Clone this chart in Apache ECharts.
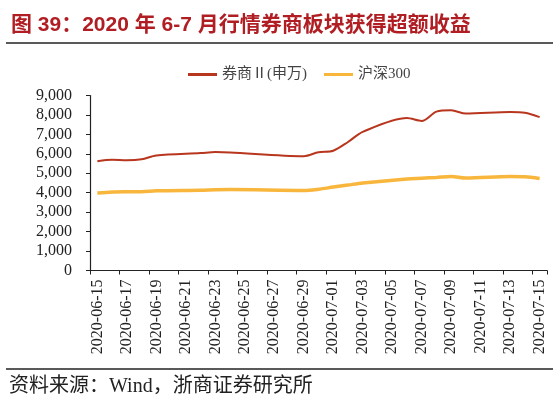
<!DOCTYPE html>
<html>
<head>
<meta charset="utf-8">
<script src="https://cdn.jsdelivr.net/npm/echarts@6/dist/echarts.min.js"></script>
<style>
html,body{margin:0;padding:0;background:#fff;}
#c{width:553px;height:401px;}
</style>
</head>
<body>
<div id="c"></div>
<script>
var dates = ['2020-06-15','2020-06-16','2020-06-17','2020-06-18','2020-06-19','2020-06-20','2020-06-21','2020-06-22','2020-06-23','2020-06-24','2020-06-25','2020-06-26','2020-06-27','2020-06-28','2020-06-29','2020-06-30','2020-07-01','2020-07-02','2020-07-03','2020-07-04','2020-07-05','2020-07-06','2020-07-07','2020-07-08','2020-07-09','2020-07-10','2020-07-11','2020-07-12','2020-07-13','2020-07-14','2020-07-15'];
var brokerValues = [5620,5690,5670,5720,5920,null,null,6040,6090,6070,null,null,null,null,5880,6080,6160,6610,7130,null,null,7840,7690,8170,8240,8070,null,null,8150,8110,7890];
var csi300Values = [3980,4035,4048,4050,4100,null,null,4125,4150,4160,null,null,null,null,4115,4180,4290,4395,4500,null,null,4710,4745,4785,4840,4755,null,null,4835,4820,4730];
var seriesNames = ['券商Ⅱ(申万)','沪深300'];
var yTicks = {min:0, max:9000, interval:1000};

var serif = '"Liberation Serif","Noto Sans CJK SC",serif';
var chart = echarts.init(document.getElementById('c'));
chart.setOption({
  animation:false,
  backgroundColor:'#fff',
  title:{
    text:'图 39：2020 年 6-7 月行情券商板块获得超额收益',
    left:6, top:10,
    textStyle:{fontFamily:'"Liberation Sans","Noto Sans CJK SC",sans-serif',fontSize:21,fontWeight:'bold',color:'#B01E23'}
  },
  graphic:[
    {type:'line',shape:{x1:6,y1:43,x2:553,y2:43},style:{stroke:'#222',lineWidth:1.5}},
    {type:'line',shape:{x1:6,y1:369,x2:553,y2:369},style:{stroke:'#222',lineWidth:1.5}},
    {type:'text',left:9,top:377,style:{text:'资料来源：Wind，浙商证券研究所',font:'20px '+serif,fill:'#222'}}
  ],
  legend:{
    left:183, top:62,
    itemWidth:29, itemHeight:3, itemGap:17,
    icon:'rect',
    textStyle:{fontFamily:serif,fontSize:15,color:'#444'},
    data:[
      {name:seriesNames[0],itemStyle:{color:'#B8361E'}},
      {name:seriesNames[1],itemStyle:{color:'#F8B73C'}}
    ]
  },
  grid:{left:90,right:6,top:95.5,bottom:130.5,containLabel:false},
  xAxis:{
    type:'category',
    data:dates,
    boundaryGap:true,
    axisLine:{lineStyle:{color:'#222',width:1.2}},
    axisTick:{show:true,interval:1,length:4,alignWithLabel:false,lineStyle:{color:'#222'}},
    axisLabel:{interval:1,rotate:90,margin:9,fontFamily:serif,fontSize:16,color:'#222'}
  },
  yAxis:{
    type:'value',
    min:yTicks.min,max:yTicks.max,interval:yTicks.interval,
    splitLine:{show:false},
    axisLine:{show:true,lineStyle:{color:'#222',width:1.2}},
    axisTick:{show:true,length:4,lineStyle:{color:'#222'}},
    axisLabel:{margin:18,fontFamily:serif,fontSize:16,color:'#222',
      formatter:function(v){return v.toLocaleString('en-US');}}
  },
  series:[
    {name:seriesNames[0],type:'line',data:brokerValues,connectNulls:true,smooth:0.3,showSymbol:false,
     lineStyle:{color:'#B8361E',width:2},itemStyle:{color:'#B8361E'},z:3},
    {name:seriesNames[1],type:'line',data:csi300Values,connectNulls:true,smooth:0.3,showSymbol:false,
     lineStyle:{color:'#F8B73C',width:3.5},itemStyle:{color:'#F8B73C'},z:2}
  ]
});
</script>
</body>
</html>
